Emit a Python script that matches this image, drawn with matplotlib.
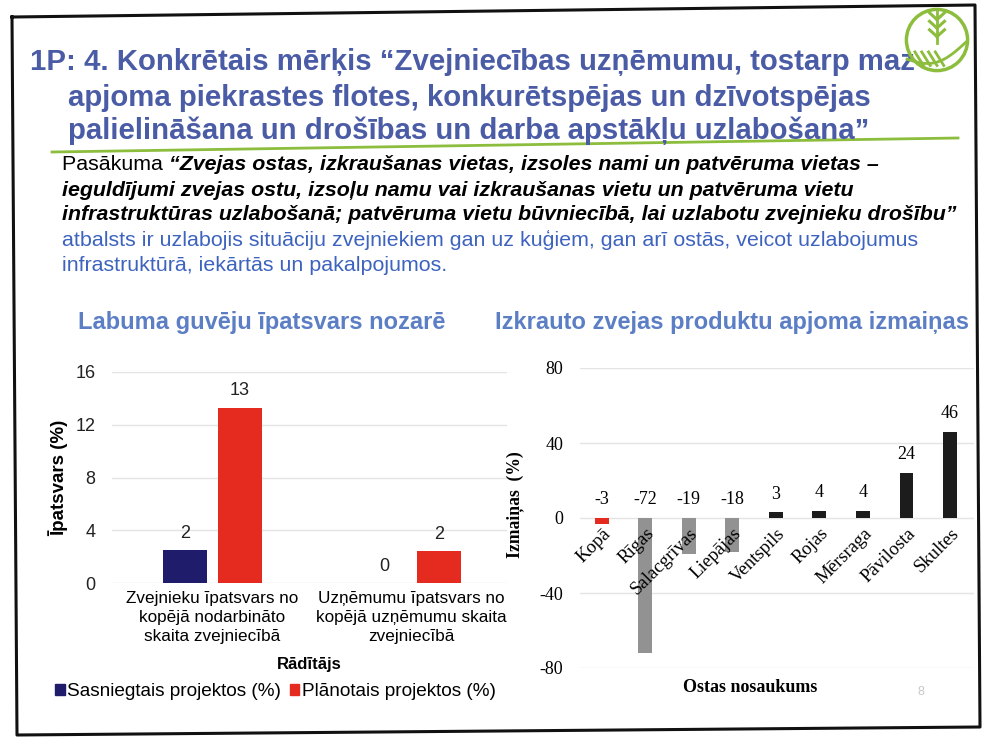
"""Slaids: labuma guvēju īpatsvars un izkrauto zvejas produktu apjoma izmaiņas."""

import matplotlib
matplotlib.use("Agg")
import matplotlib.pyplot as plt
import numpy as np
from matplotlib.lines import Line2D
from matplotlib.patches import Circle, Rectangle

W, H = 984, 742

# --- dati ---
title_lines = [
    "1P: 4. Konkrētais mērķis “Zvejniecības uzņēmumu, tostarp maz",
    "apjoma piekrastes flotes, konkurētspējas un dzīvotspējas",
    "palielināšana un drošības un darba apstākļu uzlabošana”",
]
para_lead = "Pasākuma "
para_bold = [
    "“Zvejas ostas, izkraušanas vietas, izsoles nami un patvēruma vietas –",
    "ieguldījumi zvejas ostu, izsoļu namu vai izkraušanas vietu un patvēruma vietu",
    "infrastruktūras uzlabošanā; patvēruma vietu būvniecībā, lai uzlabotu zvejnieku drošību”",
]
para_blue = [
    "atbalsts ir uzlabojis situāciju zvejniekiem gan uz kuģiem, gan arī ostās, veicot uzlabojumus",
    "infrastruktūrā, iekārtās un pakalpojumos.",
]

left_title = "Labuma guvēju īpatsvars nozarē"
left_categories = [
    "Zvejnieku īpatsvars no\nkopējā nodarbināto\nskaita zvejniecībā",
    "Uzņēmumu īpatsvars no\nkopējā uzņēmumu skaita\nzvejniecībā",
]
left_series = ["Sasniegtais projektos (%)", "Plānotais projektos (%)"]
left_achieved = [2.5, 0.0]
left_planned = [13.3, 2.4]
left_yticks = [0, 4, 8, 12, 16]

right_title = "Izkrauto zvejas produktu apjoma izmaiņas"
ports = ["Kopā", "Rīgas", "Salacgrīvas", "Liepājas", "Ventspils",
         "Rojas", "Mērsraga", "Pāvilosta", "Skultes"]
port_change = [-3, -72, -19, -18, 3, 4, 4, 24, 46]
right_yticks = [-80, -40, 0, 40, 80]

SANS = "Liberation Sans"
SERIF = "Liberation Serif"
TITLE_C = "#4b5ca6"
SUB_C = "#5b7ec4"
PARA_BLUE = "#3d63bf"
NAVY = "#1f1d6b"
RED = "#e52b1f"
GRAY = "#929292"
DARK = "#1c1c1c"
GREEN = "#8cbd3c"
GRID = "#e4e4e4"

plt.rcParams["axes.unicode_minus"] = False


def fx(x):
    return x / W


def fy(y):
    return 1 - y / H


def rect(l, t, r, b):
    return [fx(l), fy(b), (r - l) / W, (b - t) / H]


fig = plt.figure(figsize=(W / 100, H / 100), dpi=100)
fig.patch.set_facecolor("white")

# slaida rāmis (skenējums nedaudz sašķiebts)
frame = [(12, 17), (975, 5), (980, 727), (17, 735), (12, 17)]
fig.add_artist(Line2D([fx(p[0]) for p in frame], [fy(p[1]) for p in frame],
                      color="#111111", lw=2.2, transform=fig.transFigure))

# virsraksts
title_pos = [(30, 62), (68, 98), (68, 131)]
for (tx, ty), line in zip(title_pos, title_lines):
    fig.text(fx(tx), fy(ty), line, fontsize=21.2, fontweight="bold",
             color=TITLE_C, family=SANS, va="center")
fig.add_artist(Line2D([fx(52), fx(958)], [fy(152), fy(138)], color=GREEN,
                      lw=2, transform=fig.transFigure))

# logo
axl = fig.add_axes(rect(903, 6, 971, 74), zorder=5)
axl.set_xlim(-1, 1)
axl.set_ylim(-1, 1)
axl.set_aspect("equal")
axl.axis("off")
axl.add_patch(Circle((0, 0), 0.9, fill=False, ec=GREEN, lw=2.5))
axl.plot([0, 0], [0.9, -0.1], color=GREEN, lw=2)
for yy in (0.6, 0.35, 0.1):
    axl.plot([0, -0.22], [yy, yy + 0.2], color=GREEN, lw=2.2)
    axl.plot([0, 0.22], [yy, yy + 0.2], color=GREEN, lw=2.2)
t = np.linspace(-0.88, 0.88, 50)
axl.plot(t, -0.3 + 0.35 * np.sin(np.pi * (t + 0.88) / 1.76) * -1 + 0.3 * t, color=GREEN, lw=2)
for k in range(4):
    x0 = -0.65 + k * 0.2
    axl.plot([x0, x0 + 0.25], [-0.35, -0.75], color=GREEN, lw=2)

# teksts
renderer = fig.canvas.get_renderer()
PS = 15.4
lead = fig.text(fx(62), fy(165), para_lead, fontsize=PS, family=SANS,
                color="black", va="center")
lead_w = lead.get_window_extent(renderer).width
fig.text(fx(62 + lead_w), fy(165), para_bold[0], fontsize=PS, family=SANS,
         fontweight="bold", style="italic", color="black", va="center")
fig.text(fx(62), fy(190), para_bold[1], fontsize=PS, family=SANS,
         fontweight="bold", style="italic", color="black", va="center")
fig.text(fx(62), fy(214), para_bold[2], fontsize=PS, family=SANS,
         fontweight="bold", style="italic", color="black", va="center")
fig.text(fx(62), fy(240), para_blue[0], fontsize=PS, family=SANS,
         color=PARA_BLUE, va="center")
fig.text(fx(62), fy(266), para_blue[1], fontsize=PS, family=SANS,
         color=PARA_BLUE, va="center")

fig.text(fx(78), fy(323), left_title, fontsize=17, fontweight="bold",
         color=SUB_C, family=SANS, va="center")
fig.text(fx(495), fy(323), right_title, fontsize=17, fontweight="bold",
         color=SUB_C, family=SANS, va="center")

# --- kreisais grafiks ---
ax1 = fig.add_axes(rect(112, 372, 507, 583))
x = np.arange(len(left_categories))
bw = 0.22
b1 = ax1.bar(x - 0.135, left_achieved, bw, color=NAVY, label=left_series[0])
b2 = ax1.bar(x + 0.14, left_planned, bw, color=RED, label=left_series[1])
for bars in (b1, b2):
    for rr, v in zip(bars, bars.datavalues):
        ax1.annotate(f"{v:.0f}", (rr.get_x() + rr.get_width() / 2, v),
                     xytext=(0, 6), textcoords="offset points", ha="center",
                     va="bottom", fontsize=13, family=SANS, color="#222222")
ax1.set_xlim(-0.5, 1.48)
ax1.set_ylim(0, 16)
ax1.set_yticks(left_yticks)
ax1.set_xticks(x)
ax1.set_xticklabels(left_categories, fontsize=12.3, family=SANS, linespacing=1.3)
ax1.tick_params(axis="y", length=0, pad=12, labelsize=13, colors="#222222")
ax1.tick_params(axis="x", length=0, pad=6)
for lbl in ax1.get_yticklabels():
    lbl.set_family(SANS)
ax1.yaxis.grid(True, color=GRID, lw=1)
ax1.set_axisbelow(True)
for s in ax1.spines.values():
    s.set_visible(False)
ax1.set_xlabel("Rādītājs", fontsize=12, fontweight="bold", family=SANS)
ax1.xaxis.set_label_coords(0.5, -(657 - 583) / (583 - 372))
ax1.set_ylabel("Īpatsvars (%)", fontsize=13.5, fontweight="bold", family=SANS)
ax1.yaxis.set_label_coords(-(112 - 68) / (507 - 112), 0.5)

fig.legend(handles=[Rectangle((0, 0), 1, 1, color=NAVY),
                    Rectangle((0, 0), 1, 1, color=RED)],
           labels=left_series, loc="center left",
           bbox_to_anchor=(fx(55), fy(692)), ncol=2, frameon=False,
           handlelength=0.5, handleheight=0.5, handletextpad=0.15,
           columnspacing=0.45, borderpad=0, borderaxespad=0,
           prop={"family": SANS, "size": 13.7})

# --- labais grafiks ---
ax2 = fig.add_axes(rect(580, 368, 974, 668))
ax2.spines["bottom"].set_position(("data", 0))
xp = np.arange(len(ports))
colors = [RED] + [GRAY if v < 0 else DARK for v in port_change[1:]]
bars = ax2.bar(xp, port_change, 0.32, color=colors)
for rr, v in zip(bars, port_change):
    ax2.annotate(f"{v}", (rr.get_x() + rr.get_width() / 2, max(v, 0)),
                 xytext=(0, 7), textcoords="offset points", ha="center",
                 va="bottom", fontsize=13, family=SERIF, color="black")
ax2.set_xlim(-0.5, 8.55)
ax2.set_ylim(-80, 80)
ax2.set_yticks(right_yticks)
ax2.set_xticks(xp)
ax2.set_xticklabels(ports, rotation=45, ha="right", rotation_mode="anchor",
                    fontsize=13.5, family=SERIF)
for s in ax2.spines.values():
    s.set_visible(False)
ax2.tick_params(axis="x", length=0, pad=5)
ax2.tick_params(axis="y", length=0, pad=12, labelsize=13)
for lbl in ax2.get_yticklabels():
    lbl.set_family(SERIF)
ax2.yaxis.grid(True, color=GRID, lw=1)
ax2.set_axisbelow(True)
# ostu nosaukumi virs stabiņiem, kā oriģinālā
ax2.xaxis.set_zorder(3)
ax2.set_ylabel("Izmaiņas  (%)", fontsize=12.7, fontweight="bold", family=SERIF)
ax2.yaxis.set_label_coords(-(580 - 524) / (974 - 580), (668 - 505) / (668 - 368))
ax2.set_xlabel("Ostas nosaukums", fontsize=13, fontweight="bold", family=SERIF)
ax2.xaxis.set_label_coords((750 - 580) / (974 - 580), -(679 - 668) / (668 - 368))

fig.text(fx(921), fy(692), "8", fontsize=9, color="#c8c8c8", family=SANS,
         ha="center", va="center")

fig.savefig("out.png", dpi=100)
